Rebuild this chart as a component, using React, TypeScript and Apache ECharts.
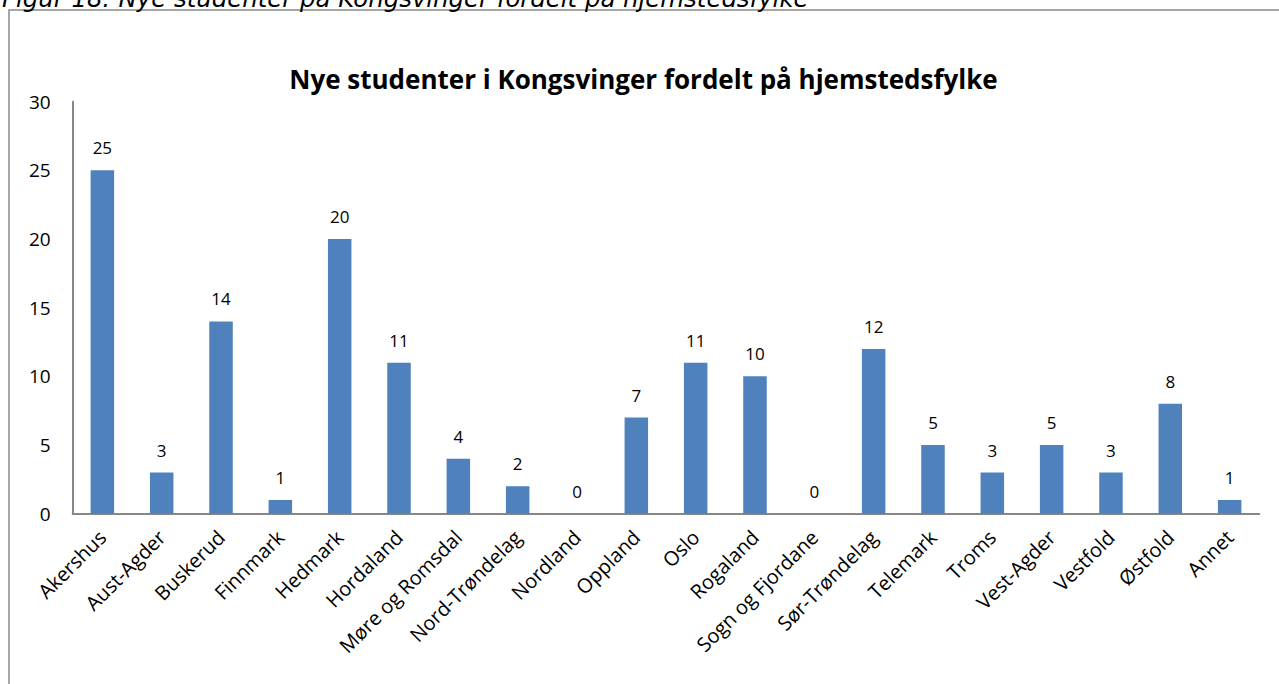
import React, { useEffect, useRef } from "react";
import * as echarts from "echarts";

const categories = [
  "Akershus", "Aust-Agder", "Buskerud", "Finnmark", "Hedmark", "Hordaland",
  "Møre og Romsdal", "Nord-Trøndelag", "Nordland", "Oppland", "Oslo", "Rogaland",
  "Sogn og Fjordane", "Sør-Trøndelag", "Telemark", "Troms", "Vest-Agder",
  "Vestfold", "Østfold", "Annet",
];
const values = [25, 3, 14, 1, 20, 11, 4, 2, 0, 7, 11, 10, 0, 12, 5, 3, 5, 3, 8, 1];
const yTicks = { min: 0, max: 30, interval: 5 };
const titleText = "Nye studenter i Kongsvinger fordelt på hjemstedsfylke";
const captionText = "Figur 18: Nye studenter på Kongsvinger fordelt på hjemstedsfylke";

export default function App() {
  const ref = useRef<HTMLDivElement>(null);
  useEffect(() => {
    if (!ref.current) return;
    const chart = echarts.init(ref.current, null, { renderer: "svg" });
    const font = "'Open Sans', 'Noto Sans', sans-serif";
    chart.setOption({
      animation: false,
      backgroundColor: "#ffffff",
      grid: { left: 72.7, right: 19.7, top: 101.7, bottom: 170.3, containLabel: false },
      xAxis: {
        type: "category",
        data: categories,
        axisLine: { show: true, lineStyle: { color: "#878787", width: 2 } },
        axisTick: { show: false },
        axisLabel: {
          interval: 0,
          rotate: 45,
          margin: 20,
          color: "#000000",
          fontFamily: font,
          fontSize: 20,
        },
        splitLine: { show: false },
      },
      yAxis: {
        type: "value",
        min: yTicks.min,
        max: yTicks.max,
        interval: yTicks.interval,
        axisLine: { show: true, lineStyle: { color: "#878787", width: 2 } },
        axisTick: { show: false },
        axisLabel: {
          margin: 22,
          color: "#000000",
          fontFamily: font,
          fontSize: 19,
        },
        splitLine: { show: false },
      },
      series: [
        {
          type: "bar",
          data: values,
          barWidth: 23.5,
          itemStyle: { color: "#4F81BD" },
          label: {
            show: true,
            position: "top",
            distance: 14,
            color: "#000000",
            fontFamily: font,
            fontSize: 17,
          },
        },
      ],
      graphic: [
        {
          type: "rect",
          shape: { x: 9, y: 10, width: 1400, height: 1000 },
          style: { fill: "none", stroke: "#8a8a8a", lineWidth: 1.5 },
          silent: true,
        },
        {
          type: "text",
          x: 2,
          y: 10,
          style: {
            text: captionText,
            fontFamily: "'DejaVu Sans', Verdana, sans-serif",
            fontStyle: "italic",
            fontSize: 24.4,
            fill: "#000000",
            textAlign: "left",
            textVerticalAlign: "bottom",
          },
        },
        {
          type: "text",
          x: 643.5,
          y: 79,
          style: {
            text: titleText,
            fontFamily: font,
            fontWeight: "bold",
            fontSize: 26,
            fill: "#000000",
            textAlign: "center",
            textVerticalAlign: "middle",
          },
        },
      ],
    });
    return () => chart.dispose();
  }, []);
  return (
    <div
      ref={ref}
      style={{ position: "fixed", left: 0, top: 0, width: 1279, height: 684 }}
    />
  );
}
